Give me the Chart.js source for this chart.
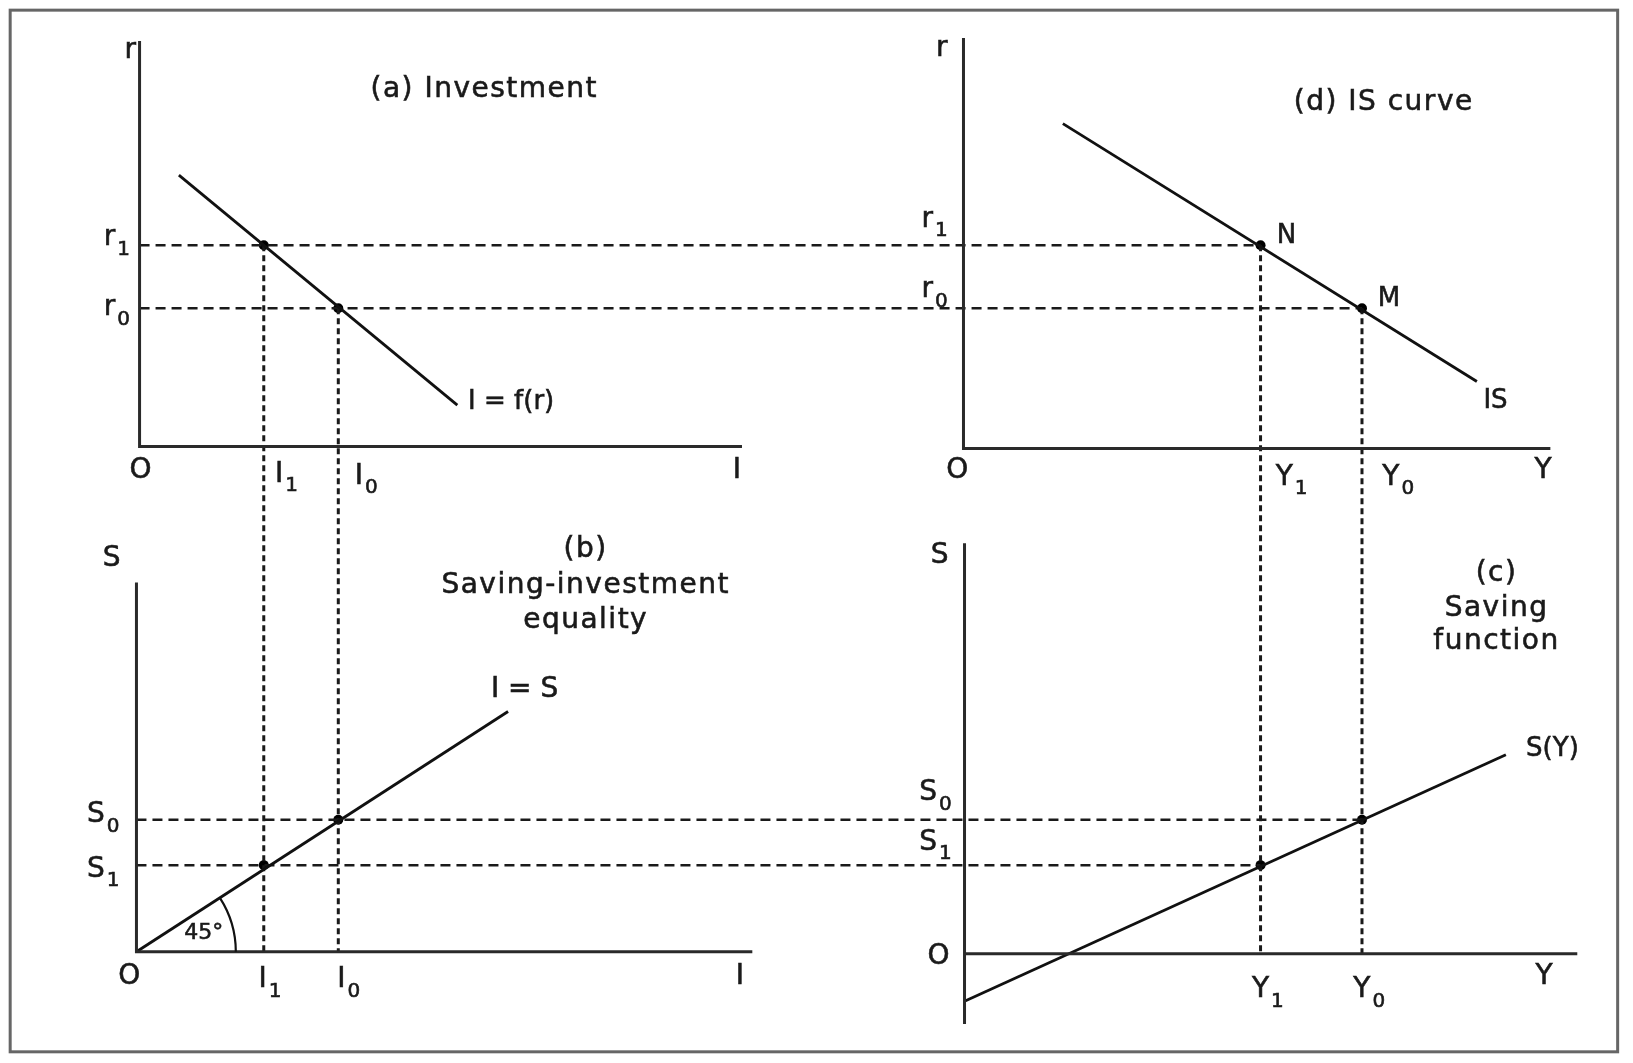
<!DOCTYPE html>
<html>
<head>
<meta charset="utf-8">
<script src="https://cdn.jsdelivr.net/npm/chart.js@4.4.1/dist/chart.umd.min.js"></script>
<style>
  html, body { margin: 0; padding: 0; background: #fff; }
  #wrap { width: 1633px; height: 1063px; }
</style>
</head>
<body>
<div id="wrap"><canvas id="islm" width="1633" height="1063"></canvas></div>
<script>
// the diagram is laid out on a 1568 x 1021 figure grid
const FIG_W = 1568, FIG_H = 1021;

// axes of every panel (top of y-axis -> origin -> end of x-axis)
const axesA = [[130, 35], [130, 428], [712, 428]];
const axesD = [[926, 32], [926, 430], [1493, 430]];
const axesB = [[127, 560], [127, 918], [722, 918]];
const axesCy = [[927, 522], [927, 988]];
const axesCx = [[927, 920], [1519, 920]];

// schedules
const investment = [[168, 165], [437, 388]];   // I = f(r)
const isCurve = [[1022, 115], [1422, 365]];     // IS
const equality = [[127, 918], [486, 685]];      // I = S
const saving = [[927, 966], [1450, 727]];       // S(Y)

// levels, index 0 -> subscript 1, index 1 -> subscript 0
const rLevels = [233, 294];
const iLevels = [250, 322];
const yLevels = [1213, 1311];
const sLevels = [834, 790];

// titles (spaced out a little in the original)
const titles = [
  ['(a) Investment', 463, 82],
  ['(d) IS curve', 1332, 95],
  ['(b)', 561, 528],
  ['Saving-investment', 561, 563],
  ['equality', 561, 597],
  ['(c)', 1441, 551],
  ['Saving', 1441, 585],
  ['function', 1441, 617]
];

// axis and curve labels: [text, subscript, x, y, size]
const labels = [
  ['r', '', 121, 44, 28],
  ['r', '1', 108, 226, 28],
  ['r', '0', 108, 294, 28],
  ['O', '', 131, 452, 28],
  ['I', '1', 272, 455, 28],
  ['I', '0', 349, 457, 28],
  ['I', '', 707, 452, 28],
  ['I = f(r)', '', 489, 385, 26],

  ['r', '', 905, 42, 28],
  ['r', '1', 898, 208, 28],
  ['r', '0', 898, 276, 28],
  ['O', '', 920, 452, 28],
  ['Y', '1', 1243, 458, 28],
  ['Y', '0', 1346, 458, 28],
  ['Y', '', 1486, 452, 28],
  ['N', '', 1238, 224, 26],
  ['M', '', 1337, 285, 26],
  ['IS', '', 1440, 384, 26],

  ['S', '', 103, 537, 28],
  ['S', '0', 95, 785, 28],
  ['S', '1', 95, 838, 28],
  ['O', '', 120, 942, 28],
  ['I', '1', 256, 945, 28],
  ['I', '0', 332, 945, 28],
  ['I', '', 710, 942, 28],
  ['I = S', '', 502, 664, 28],
  ['45°', '', 192, 900, 22],

  ['S', '', 903, 534, 28],
  ['S', '0', 899, 764, 28],
  ['S', '1', 899, 812, 28],
  ['O', '', 902, 923, 28],
  ['Y', '1', 1220, 955, 28],
  ['Y', '0', 1318, 955, 28],
  ['Y', '', 1487, 942, 28],
  ['S(Y)', '', 1495, 722, 26]
];

const toPts = arr => arr.map(p => ({ x: p[0], y: p[1] }));

const solid = (pts, width, color) => ({
  data: toPts(pts), showLine: true, borderColor: color, borderWidth: width,
  pointRadius: 0, tension: 0, clip: false
});

const dashed = (pts, dash, width) => ({
  data: toPts(pts), showLine: true, borderColor: '#1a1a1a', borderWidth: width,
  borderDash: dash, pointRadius: 0, tension: 0, clip: false
});

const datasets = [];
[axesA, axesD, axesB, axesCy, axesCx].forEach(a => datasets.push(solid(a, 3, '#2a2a2a')));
[investment, isCurve, equality, saving].forEach(c => datasets.push(solid(c, 2.8, '#111')));

for (let k = 0; k < 2; k++) {
  // horizontal guides: r levels across (a)-(d), S levels across (b)-(c)
  datasets.push(dashed([[axesA[1][0], rLevels[k]], [yLevels[k], rLevels[k]]], [10, 6], 2.5));
  datasets.push(dashed([[axesB[1][0], sLevels[k]], [yLevels[k], sLevels[k]]], [10, 6], 2.5));
  // vertical guides: I levels down to (b), Y levels down to (c)
  datasets.push(dashed([[iLevels[k], rLevels[k]], [iLevels[k], axesB[1][1]]], [6, 4], 3));
  datasets.push(dashed([[yLevels[k], rLevels[k]], [yLevels[k], axesCx[0][1]]], [6, 4], 3));
}

const dots = [];
for (let k = 0; k < 2; k++) {
  dots.push([iLevels[k], rLevels[k]], [yLevels[k], rLevels[k]],
            [iLevels[k], sLevels[k]], [yLevels[k], sLevels[k]]);
}
datasets.push({
  data: toPts(dots), showLine: false, pointRadius: 5,
  pointBackgroundColor: '#000', pointBorderWidth: 0, clip: false
});

const FONT = '"DejaVu Sans", "Liberation Sans", sans-serif';

const decorations = {
  id: 'decorations',
  afterDatasetsDraw(chart) {
    const { ctx, scales: { x, y } } = chart;
    ctx.save();

    // frame
    ctx.strokeStyle = '#666';
    ctx.lineWidth = 3;
    ctx.strokeRect(x.getPixelForValue(5), y.getPixelForValue(5),
      x.getPixelForValue(1558) - x.getPixelForValue(5),
      y.getPixelForValue(1015) - y.getPixelForValue(5));

    // 45 degree arc at the origin of (b)
    const ox = x.getPixelForValue(axesB[1][0]);
    const oy = y.getPixelForValue(axesB[1][1]);
    const ex = x.getPixelForValue(equality[1][0]);
    const ey = y.getPixelForValue(equality[1][1]);
    const ang = Math.atan2(ey - oy, ex - ox);
    const rad = x.getPixelForValue(axesB[1][0] + 96) - ox;
    ctx.strokeStyle = '#111';
    ctx.lineWidth = 2.2;
    ctx.beginPath();
    ctx.arc(ox, oy, rad, ang, 0);
    ctx.stroke();

    ctx.fillStyle = '#1a1a1a';
    ctx.strokeStyle = '#1a1a1a';
    ctx.lineWidth = 0.6;
    ctx.textBaseline = 'middle';

    // titles
    ctx.textAlign = 'center';
    ctx.font = `28px ${FONT}`;
    ctx.letterSpacing = '1.5px';
    titles.forEach(([text, tx, ty]) => {
      const px = x.getPixelForValue(tx), py = y.getPixelForValue(ty);
      ctx.fillText(text, px, py);
      ctx.strokeText(text, px, py);
    });

    // labels
    ctx.textAlign = 'left';
    ctx.letterSpacing = '0px';
    labels.forEach(([text, sub, lx, ly, size]) => {
      const px = x.getPixelForValue(lx);
      const py = y.getPixelForValue(ly);
      const subSize = Math.round(size * 0.7);
      ctx.font = `${size}px ${FONT}`;
      const w = ctx.measureText(text).width;
      let sw = 0;
      if (sub) {
        ctx.font = `${subSize}px ${FONT}`;
        sw = ctx.measureText(sub).width;
      }
      const start = px - (w + sw + (sub ? 2 : 0)) / 2;
      ctx.font = `${size}px ${FONT}`;
      ctx.fillText(text, start, py);
      ctx.strokeText(text, start, py);
      if (sub) {
        ctx.font = `${subSize}px ${FONT}`;
        ctx.fillText(sub, start + w + 2, py + size * 0.42);
        ctx.strokeText(sub, start + w + 2, py + size * 0.42);
      }
    });
    ctx.restore();
  }
};

new Chart(document.getElementById('islm').getContext('2d'), {
  type: 'scatter',
  data: { datasets },
  options: {
    responsive: false,
    animation: false,
    events: [],
    devicePixelRatio: 1,
    layout: { padding: 0 },
    plugins: { legend: { display: false }, tooltip: { enabled: false } },
    scales: {
      x: { type: 'linear', min: 0, max: FIG_W, display: false },
      y: { type: 'linear', min: 0, max: FIG_H, reverse: true, display: false }
    }
  },
  plugins: [decorations]
});
</script>
</body>
</html>
